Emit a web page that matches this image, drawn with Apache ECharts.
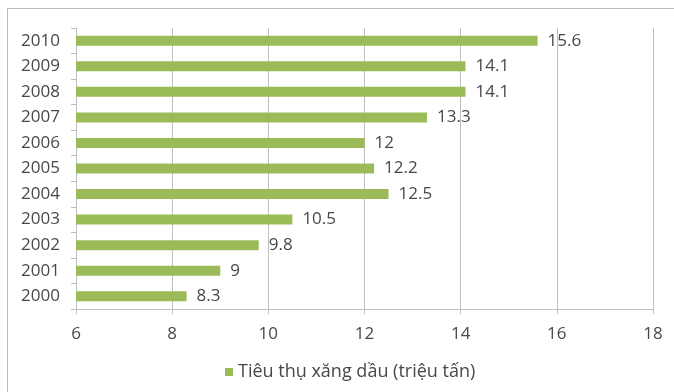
<!DOCTYPE html>
<html>
<head>
<meta charset="utf-8">
<script src="https://cdn.jsdelivr.net/npm/echarts@6/dist/echarts.min.js"></script>
<style>
  html, body { margin: 0; padding: 0; background: #fff; }
  #wrap { position: relative; width: 674px; height: 392px; overflow: hidden; }
  #frame { position: absolute; left: 7px; top: 8px; width: 700px; height: 420px; border: 1px solid #bcbcbc; box-sizing: border-box; }
  #chart { position: absolute; left: 0; top: 0; width: 674px; height: 392px; }
</style>
</head>
<body>
<div id="wrap">
  <div id="frame"></div>
  <div id="chart"></div>
</div>
<script>
// Yearly fuel consumption, million tonnes
const years = ['2000', '2001', '2002', '2003', '2004', '2005', '2006', '2007', '2008', '2009', '2010'];
const consumption = [8.3, 9, 9.8, 10.5, 12.5, 12.2, 12, 13.3, 14.1, 14.1, 15.6];
const seriesName = 'Tiêu thụ xăng dầu (triệu tấn)';

const font = '"Open Sans", "Noto Sans", sans-serif';
const textColor = '#484848';
const chart = echarts.init(document.getElementById('chart'), null, { renderer: 'canvas' });

chart.setOption({
  animation: false,
  backgroundColor: 'transparent',
  textStyle: { fontFamily: font },
  grid: { left: 76, right: 21, top: 28, bottom: 83, containLabel: false },
  legend: {
    top: 358,
    left: 220,
    itemWidth: 8,
    itemHeight: 8,
    itemGap: 6,
    icon: 'rect',
    textStyle: { color: textColor, fontSize: 18, fontFamily: font },
    data: [seriesName]
  },
  xAxis: {
    type: 'value',
    min: 6,
    max: 18,
    interval: 2,
    axisLine: { show: true, lineStyle: { color: '#bfbfbf', width: 1 } },
    axisTick: { show: true, length: 5, lineStyle: { color: '#bfbfbf' } },
    axisLabel: { color: textColor, fontSize: 17, margin: 17, fontFamily: font },
    splitLine: { show: true, lineStyle: { color: '#bfbfbf', width: 1 } }
  },
  yAxis: {
    type: 'category',
    data: years,
    axisLine: { show: true, lineStyle: { color: '#bfbfbf', width: 1 } },
    axisTick: { show: true, length: 5, alignWithLabel: false, lineStyle: { color: '#bfbfbf' } },
    axisLabel: { color: textColor, fontSize: 17, margin: 16, fontFamily: font },
    splitLine: { show: false }
  },
  series: [{
    name: seriesName,
    type: 'bar',
    data: consumption,
    barWidth: 10,
    itemStyle: { color: '#9bbb59' },
    label: {
      show: true,
      position: 'right',
      distance: 10,
      color: textColor,
      fontSize: 17,
      fontFamily: font
    }
  }]
});
</script>
</body>
</html>
